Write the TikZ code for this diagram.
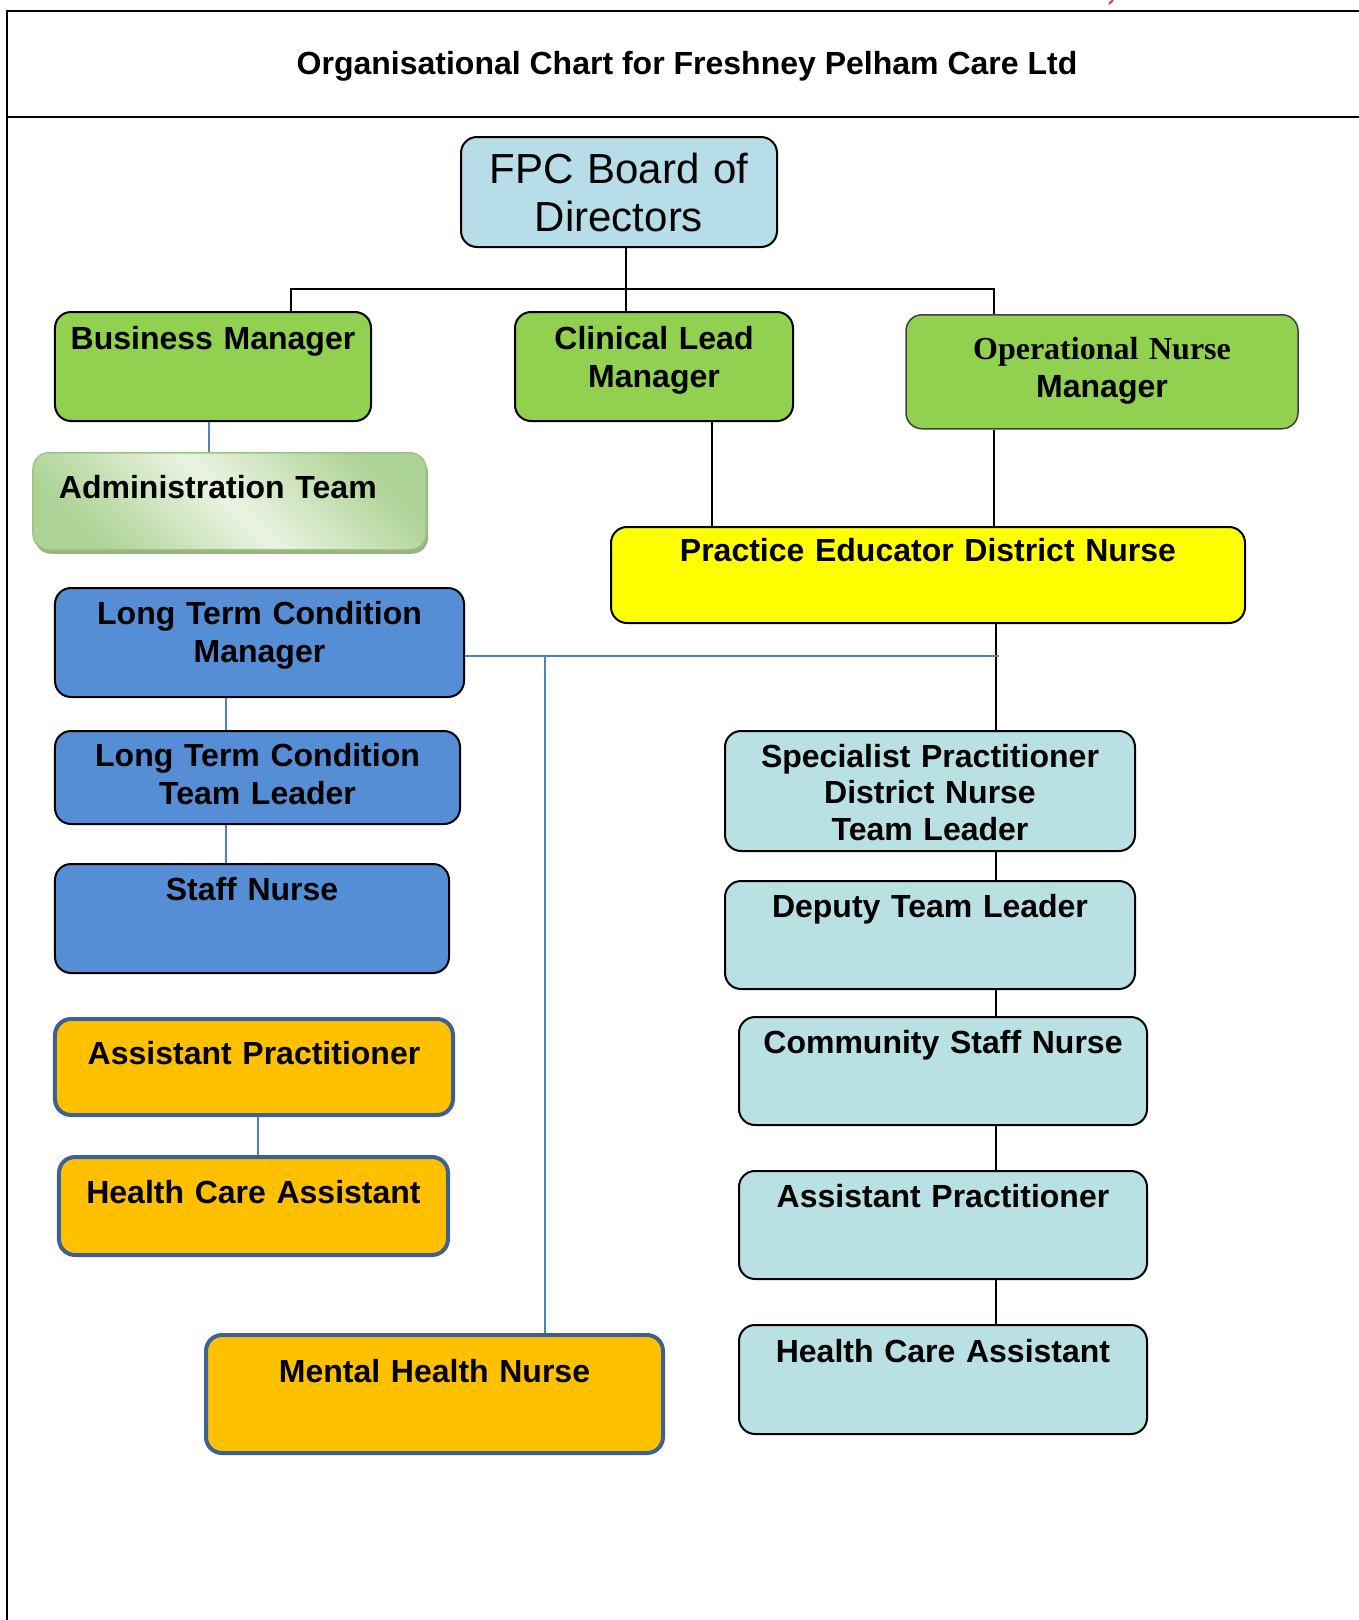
\documentclass[tikz,border=0pt]{standalone}
\usepackage{fontspec}
\setmainfont{Liberation Sans}
\newfontfamily\opfont{Liberation Serif}
\usetikzlibrary{shadows}

\definecolor{boardblue}{HTML}{B7DDE8}
\definecolor{mgrgreen}{HTML}{92D050}
\definecolor{admingreen}{HTML}{AED396}
\definecolor{adminlight}{HTML}{EAF3E2}
\definecolor{adminedge}{HTML}{9DC47F}
\definecolor{adminshade}{HTML}{9AB283}
\definecolor{peyellow}{HTML}{FFFF00}
\definecolor{ltcblue}{HTML}{558ED5}
\definecolor{apgold}{HTML}{FFC000}
\definecolor{apedge}{HTML}{3D6190}
\definecolor{teamblue}{HTML}{B9E0E2}
\definecolor{linkblue}{HTML}{4F81BD}
\definecolor{pagemark}{HTML}{E0306E}

\begin{document}
\begin{tikzpicture}[x=1bp,y=-1bp,
  box/.style={draw,line width=2bp,rounded corners=16bp,anchor=north,inner sep=0pt,
    align=center,font=\bfseries\fontsize{32bp}{38bp}\selectfont},
  mgr/.style={box,fill=mgrgreen},
  ltc/.style={box,fill=ltcblue},
  gold/.style={box,fill=apgold,draw=apedge,line width=4bp},
  team/.style={box,fill=teamblue},
  conn/.style={line width=1.5bp,color=black},
  bconn/.style={line width=2bp,color=linkblue}]
\useasboundingbox (0,0) rectangle (1359,1620);

% page frame
\draw[line width=2bp] (1359,11) -- (7,11) -- (7,1620);
\draw[line width=2bp] (7,117) -- (1359,117);
\draw[line width=2bp,pagemark] (1113,0) -- (1109,4);

\node[anchor=base,font=\bfseries\fontsize{32bp}{38bp}\selectfont] (title) at (687,75)
  {Organisational Chart for Freshney Pelham Care Ltd};

% board and managers
\node[box,fill=boardblue,font=\fontsize{42bp}{48bp}\selectfont,text width=316bp,
  text height=46bp,text depth=64bp] (board) at (619,136) {FPC Board of\\Directors};
\node[mgr,text width=316bp,text height=37bp,text depth=72bp] (bm) at (213,311) {Business Manager};
\node[mgr,text width=278bp,text height=37bp,text depth=72bp] (clm) at (654,311) {Clinical Lead\\Manager};
\node[mgr,draw=black!75,line width=1.5bp,text width=392bp,text height=45bp,text depth=69bp] (onm) at (1102,314)
  {{\opfont Operational Nurse}\\Manager};
\node[box,draw=adminedge,line width=1.5bp,left color=admingreen,right color=admingreen,
  middle color=adminlight,shading angle=-45,
  drop shadow={fill=adminshade,opacity=1,shadow xshift=2bp,shadow yshift=-4bp},
  align=left,inner xsep=26bp,text width=341bp,text height=46bp,text depth=51bp] (adm) at (229.5,452)
  {Administration Team};
\node[box,fill=peyellow,text width=634bp,text height=34bp,text depth=62bp] (pe) at (928,526)
  {Practice Educator District Nurse};

% long term condition side
\node[ltc,text width=409bp,text height=36bp,text depth=73bp] (ltcm) at (259.5,587) {Long Term Condition\\Manager};
\node[ltc,text width=405bp,text height=35bp,text depth=58bp] (ltctl) at (257.5,730) {Long Term Condition\\Team Leader};
\node[ltc,text width=394bp,text height=36bp,text depth=73bp] (sn) at (252,863) {Staff Nurse};
\node[gold,text width=398bp,text height=45bp,text depth=51bp] (apl) at (254,1017) {Assistant Practitioner};
\node[gold,text width=389bp,text height=46bp,text depth=52bp] (hcal) at (253.5,1155) {Health Care Assistant};
\node[gold,text width=457bp,text height=47bp,text depth=71bp] (mhn) at (434.5,1333) {Mental Health Nurse};

% district nursing team
\node[team,font=\bfseries\fontsize{32bp}{36.5bp}\selectfont,text width=410bp,text height=36bp,text depth=84bp]
  (spdn) at (930,730) {Specialist Practitioner\\District Nurse\\Team Leader};
\node[team,text width=410bp,text height=36bp,text depth=72bp] (dtl) at (930,880) {Deputy Team Leader};
\node[team,text width=408bp,text height=36bp,text depth=72bp] (csn) at (943,1016) {Community Staff Nurse};
\node[team,text width=408bp,text height=36bp,text depth=72bp] (apr) at (943,1170) {Assistant Practitioner};
\node[team,text width=408bp,text height=37bp,text depth=72bp] (hcar) at (943,1324) {Health Care Assistant};

% where the lines run
\coordinate (bus) at (291,289);
\coordinate (mid) at (626,289);
\coordinate (ops) at (994,289);
\coordinate (clx) at (712,0);
\coordinate (trunk) at (996,0);
\coordinate (admx) at (209,0);
\coordinate (ltcx) at (226,0);
\coordinate (apx) at (258,0);
\coordinate (hub) at (999,656);
\coordinate (mhx) at (545,656);

\draw[conn] (bm.north -| bus) -- (bus) -- (ops) -- (onm.north -| ops);
\path[conn]
  (board.south -| mid) edge (clm.north -| mid)
  (clm.south -| clx) edge (pe.north -| clx)
  (onm.south -| ops) edge (pe.north -| ops)
  (pe.south -| trunk) edge (spdn.north -| trunk)
  (spdn.south -| trunk) edge (dtl.north -| trunk)
  (dtl.south -| trunk) edge (csn.north -| trunk)
  (csn.south -| trunk) edge (apr.north -| trunk)
  (apr.south -| trunk) edge (hcar.north -| trunk)
;
\path[bconn]
  (bm.south -| admx) edge (adm.north -| admx)
  (ltcm.south -| ltcx) edge (ltctl.north -| ltcx)
  (ltctl.south -| ltcx) edge (sn.north -| ltcx)
  (apl.south -| apx) edge (hcal.north -| apx)
  (ltcm.east |- hub) edge (hub)
  (mhx) edge (mhn.north -| mhx)
;
\end{tikzpicture}
\end{document}
